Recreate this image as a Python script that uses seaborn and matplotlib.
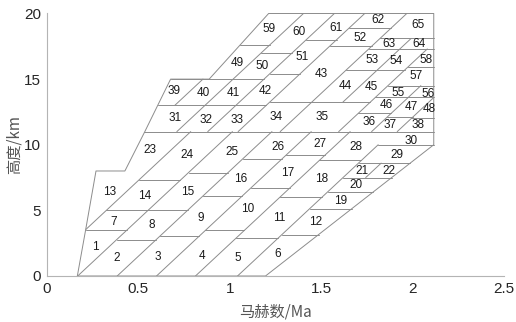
import numpy as np
import pandas as pd
import matplotlib
matplotlib.use("Agg")
import matplotlib.pyplot as plt
from matplotlib import font_manager
import seaborn as sns

# ---------------- data ----------------
SLOPE = 13.0  # km per Ma of the slanted partition lines

# slanted partition lines: Mach at H=0, lower and upper altitude
slant_name = ["M1", "L0", "L1", "L2", "L3", "L4", "D1",
              "U1", "U2", "U3", "U4", "U5", "U6", "U7", "U8", "U9"]
slant_x0 = [-0.059, 0.169, 0.385, 0.600, 0.813, 1.043, 1.167,
            -0.300, -0.135, 0.034, 0.200, 0.430, 0.600, 0.750, 0.930, 1.070]
slant_ylo = [3.53, 0.0, 0.0, 0.0, 0.0, 0.0, 7.5,
             13.0, 11.0, 11.0, 11.0, 11.0, 13.25, 11.0, 11.0, 11.0]
slant_yhi = [11.0, 11.0, 11.0, 11.0, 11.0, 10.0, 8.6,
             15.0, 20.0, 20.0, 20.0, 20.0, 18.1, 17.3, 14.5, 13.6]

# envelope outline
env_x = [0.167, 0.2126, 0.269, 0.427, 0.536, 0.677, 0.888, 1.213, 2.116, 2.116, 1.196, 0.167]
env_y = [0.0, 3.53, 8.0, 8.0, 11.0, 15.0, 15.0, 20.0, 20.0, 10.0, 0.0, 0.0]

# horizontal partition segments: altitude, left line, right line
h_y = [3.53, 2.76, 3.04, 3.47, 2.91, 3.15,
       5.0, 6.07, 6.7, 6.0, 5.13, 6.4, 7.5, 8.6, 10.0,
       7.29, 7.88, 8.95, 9.2, 8.8, 11.0,
       13.0, 13.25, 15.0, 15.4, 17.6, 17.0, 18.0, 17.5, 18.9,
       15.7, 17.3, 18.1, 12.4, 12.1, 12.0, 13.6, 14.5, 15.9]
h_left = ["E", "L0", "L1", "L2", "L3", "L4",
          "M1", "L1", "L2", "L3", "L4", "L4", "L4", "L4", "L4",
          "M1", "L0", "L1", "L2", "L3", "E",
          "E", "U4", "E", "U3", "E", "U2", "U3", "U4", "U4",
          "U5", "U5", "U5", "U7", "U8", "U9", "U7", "U7", "U7"]
h_right = ["L0", "L1", "L2", "L3", "L4", "R",
           "L1", "L2", "L3", "L4", "R", "R", "R", "R", "R",
           "L0", "L1", "L2", "L3", "L4", "R",
           "U4", "U7", "U3", "U4", "U2", "U3", "U4", "U5", "U5",
           "U7", "R", "R", "U8", "U9", "R", "R", "R", "R"]

# cell numbers and their positions (Mach, km)
cell_id = list(range(1, 66))
cell_x = [0.263, 0.382, 0.609, 0.846, 1.043, 1.265, 0.363, 0.573, 0.841, 1.101,
          1.270, 1.471, 0.342, 0.537, 0.773, 1.060, 1.316, 1.502, 1.609, 1.690,
          1.726, 1.872, 0.564, 0.768, 1.010, 1.263, 1.493, 1.693, 1.915, 1.990,
          0.700, 0.870, 1.038, 1.256, 1.505, 1.762, 1.879, 2.030, 0.695, 0.855,
          1.019, 1.196, 1.502, 1.630, 1.775, 1.854, 1.994, 2.094, 1.043, 1.178,
          1.398, 1.715, 1.781, 1.908, 1.921, 2.085, 2.017, 2.076, 1.216, 1.378,
          1.584, 1.811, 1.872, 2.035, 2.030]
cell_y = [2.20, 1.39, 1.44, 1.56, 1.39, 1.69, 4.11, 3.85, 4.44, 5.13,
          4.44, 4.11, 6.40, 6.07, 6.40, 7.42, 7.85, 7.42, 5.71, 6.91,
          8.00, 8.00, 9.63, 9.20, 9.45, 9.83, 10.04, 9.83, 9.20, 10.29,
          12.02, 11.89, 11.89, 12.15, 12.08, 11.77, 11.51, 11.47, 14.06, 13.93,
          13.93, 14.06, 15.38, 14.44, 14.37, 13.04, 12.84, 12.73, 16.22, 15.97,
          16.66, 18.13, 16.47, 16.35, 13.93, 13.85, 15.21, 16.47, 18.84, 18.59,
          18.89, 19.53, 17.67, 17.67, 19.15]

x_ticks = [0, 0.5, 1, 1.5, 2, 2.5]
y_ticks = [0, 5, 10, 15, 20]

# ---------------- geometry helpers ----------------
x0_of = dict(zip(slant_name, slant_x0))


def left_env(y):
    if y <= 8.0:
        return np.interp(y, [0.0, 3.53, 8.0], [0.167, 0.2126, 0.269])
    if y <= 15.0:
        return np.interp(y, [8.0, 15.0], [0.427, 0.677])
    return np.interp(y, [15.0, 20.0], [0.888, 1.213])


def right_env(y):
    return np.interp(y, [0.0, 10.0, 20.0], [1.196, 2.116, 2.116])


def x_at(name, y):
    if name == "E":
        return left_env(y)
    if name == "R":
        return right_env(y)
    return max(left_env(y), min(right_env(y), x0_of[name] + y / SLOPE))


rows = []
seg = 0
for x, y in zip(env_x, env_y):
    rows.append((seg, x, y))
seg += 1
for n, x0, ylo, yhi in zip(slant_name, slant_x0, slant_ylo, slant_yhi):
    ys = np.linspace(ylo, yhi, 300)
    xs = x0 + ys / SLOPE
    ok = (xs >= np.array([left_env(v) for v in ys]) - 1e-9) & \
         (xs <= np.array([right_env(v) for v in ys]) + 1e-9)
    if ok.sum() < 2:
        continue
    for x, y in zip(xs[ok], ys[ok]):
        rows.append((seg, x, y))
    seg += 1
for y, l, r in zip(h_y, h_left, h_right):
    rows.append((seg, x_at(l, y), y))
    rows.append((seg, x_at(r, y), y))
    seg += 1

df = pd.DataFrame(rows, columns=["seg", "x", "y"])

# ---------------- drawing ----------------
sns.set_theme(style="white")
names = {f.name for f in font_manager.fontManager.ttflist}
num_font = ["Liberation Sans Narrow"] if "Liberation Sans Narrow" in names else ["Liberation Sans"]
plt.rcParams["font.family"] = num_font + ["Noto Sans CJK SC"]

fig = plt.figure(figsize=(5.16, 3.22), dpi=100)
ax = fig.add_axes([0.0907, 0.1429, 0.8860, 0.8152])

sns.lineplot(data=df, x="x", y="y", units="seg", estimator=None, sort=False,
             color="#8c8c8c", linewidth=0.7, ax=ax, legend=False)

for cid, cx, cy in zip(cell_id, cell_x, cell_y):
    ax.text(cx, cy, str(cid), ha="center", va="center", fontsize=8.5,
            color="#1a1a1a", family=num_font)

ax.set_xlim(0, 2.5)
ax.set_ylim(0, 20)
ax.set_xticks(x_ticks)
ax.set_xticklabels([f"{t:g}" for t in x_ticks])
ax.set_yticks(y_ticks)
ax.set_yticklabels([f"{t:g}" for t in y_ticks])
ax.tick_params(direction="in", length=4, width=0.6, color="#a0a0a0",
               labelsize=11, labelcolor="#262626", pad=4)
for s in ["top", "right"]:
    ax.spines[s].set_visible(False)
for s in ["left", "bottom"]:
    ax.spines[s].set_color("#b4b4b4")
    ax.spines[s].set_linewidth(0.8)

ax.set_xlabel("马赫数/Ma", fontsize=11, color="#555555",
              family=["Noto Sans CJK SC", "Liberation Sans"], labelpad=6)
ax.set_ylabel("高度/km", fontsize=11, color="#555555",
              family=["Noto Sans CJK SC", "Liberation Sans"], labelpad=1)

fig.savefig("out.png", dpi=100)
